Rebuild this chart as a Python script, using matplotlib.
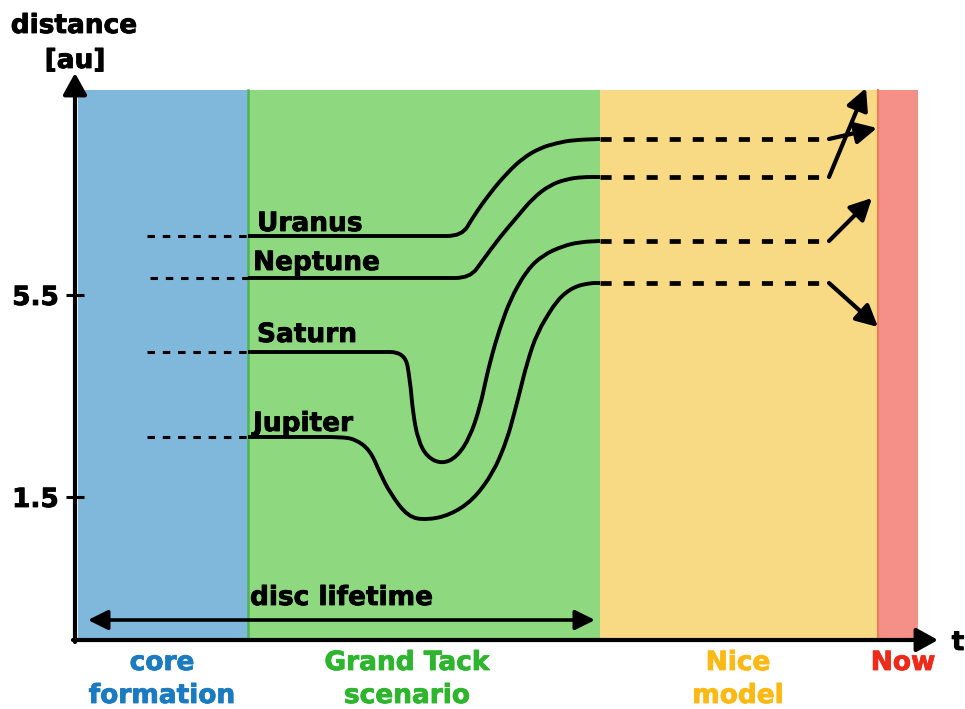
import numpy as np
import matplotlib
matplotlib.use("Agg")
import matplotlib.pyplot as plt
import matplotlib.patheffects as pe
from matplotlib.path import Path
from matplotlib.patches import PathPatch, Rectangle

plt.rcParams['font.family'] = ['DejaVu Sans']
plt.rcParams['font.weight'] = 'bold'
plt.rcParams['lines.scale_dashes'] = False

# ---------------- data (schematic units) ----------------
phase_labels = ['core\nformation', 'Grand Tack\nscenario', 'Nice\nmodel', 'Now']
phase_edges = [0.03, 1.73, 5.25, 8.03, 8.43]
phase_top = 5.5
phase_fill = ['#80B8DC', '#8ED880', '#F9DA84', '#F59089']
phase_text_color = ['#1B7BC0', '#2DB52D', '#FDB913', '#EE2A1B']
phase_label_t = [0.87, 3.32, 6.63, 8.28]

planets = ['Uranus', 'Neptune', 'Saturn', 'Jupiter']

uranus_t = [1.73, 3.87, 3.98, 4.15, 4.32, 4.48, 4.65, 4.82, 4.98, 5.25]
uranus_d = [4.04, 4.04, 4.23, 4.47, 4.67, 4.82, 4.92, 4.97, 5.00, 5.01]

neptune_t = [1.73, 3.95, 4.08, 4.25, 4.42, 4.58, 4.75, 4.92, 5.08, 5.25]
neptune_d = [3.62, 3.62, 3.80, 4.03, 4.23, 4.42, 4.55, 4.61, 4.63, 4.63]

saturn_t = [1.73, 3.30, 3.35, 3.38, 3.43, 3.52, 3.67, 3.82, 3.95, 4.05,
            4.13, 4.22, 4.35, 4.52, 4.68, 4.88, 5.05, 5.25]
saturn_d = [2.88, 2.88, 2.60, 2.27, 2.00, 1.83, 1.76, 1.83, 2.03, 2.33,
            2.70, 3.03, 3.40, 3.70, 3.85, 3.94, 3.98, 3.99]

jupiter_t = [1.73, 2.65, 2.80, 2.95, 3.05, 3.15, 3.33, 3.52, 3.75, 3.98,
             4.18, 4.32, 4.42, 4.52, 4.62, 4.82, 4.98, 5.15, 5.25]
jupiter_d = [2.03, 2.03, 2.01, 1.90, 1.67, 1.47, 1.23, 1.20, 1.25, 1.40,
             1.67, 2.00, 2.37, 2.77, 3.07, 3.40, 3.53, 3.57, 3.57]

formation_start_t = [0.72, 0.75, 0.72, 0.72]
nice_end_t = 7.54
arrow_tip_t = [8.02, 7.91, 7.97, 8.03]
arrow_tip_d = [5.12, 5.52, 4.42, 3.13]

ytick_pos = [1.43, 3.45]
ytick_labels = ['1.5', '5.5']

disc_lifetime_t = [0.13, 5.20]
disc_lifetime_d = 0.20

planet_label_t = [1.82, 1.78, 1.82, 1.78]
planet_label_d = [4.09, 3.70, 2.98, 2.09]

tracks_t = [uranus_t, neptune_t, saturn_t, jupiter_t]
tracks_d = [uranus_d, neptune_d, saturn_d, jupiter_d]

# ---------------- figure ----------------
W, H = 965, 709
fig = plt.figure(figsize=(W / 100, H / 100), dpi=100)
ax = fig.add_axes([75 / W, (H - 640) / H, 880 / W, 565 / H])
ax.set_xlim(0, 8.8)
ax.set_ylim(0, 5.65)
for s in ax.spines.values():
    s.set_visible(False)

def heavy(c):
    return [pe.withStroke(linewidth=0.6, foreground=c)]

ax.set_xticks([])
ax.set_yticks(ytick_pos)
ax.set_yticklabels(ytick_labels, fontsize=19, fontweight='bold')
for lab in ax.get_yticklabels():
    lab.set_path_effects(heavy('black'))
ax.tick_params(axis='y', direction='inout', length=13, width=2.2, pad=5)

# phase bands
for i in range(4):
    ax.add_patch(Rectangle((phase_edges[i], 0), phase_edges[i + 1] - phase_edges[i],
                           phase_top, facecolor=phase_fill[i], edgecolor='none', zorder=0))
ax.plot([phase_edges[1]] * 2, [0, phase_top], color='#4DB556', lw=1.8, zorder=0.5)
ax.plot([phase_edges[3]] * 2, [0, phase_top], color='#F07A5E', lw=1.5, zorder=0.5)

# phase labels
for lab, tx, col in zip(phase_labels, phase_label_t, phase_text_color):
    for k, ln in enumerate(lab.split('\n')):
        ax.text(tx, -0.30 - 0.33 * k, ln, ha='center', va='baseline', fontsize=19,
                fontweight='bold', color=col, clip_on=False, path_effects=heavy(col))


def smooth_path(ts, ds, r=0.15):
    p = np.column_stack([ts, ds]).astype(float)
    verts = [p[0]]
    codes = [Path.MOVETO]
    for i in range(1, len(p) - 1):
        vin = p[i - 1] - p[i]
        vout = p[i + 1] - p[i]
        lin = np.hypot(*vin)
        lout = np.hypot(*vout)
        a = p[i] + vin * min(0.5, r / lin)
        b = p[i] + vout * min(0.5, r / lout)
        verts += [a, p[i], b]
        codes += [Path.LINETO, Path.CURVE3, Path.CURVE3]
    verts.append(p[-1])
    codes.append(Path.LINETO)
    return Path(verts, codes)


for name, ts, ds, t0, tip_t, tip_d, lt, ld in zip(planets, tracks_t, tracks_d,
                                                  formation_start_t, arrow_tip_t,
                                                  arrow_tip_d, planet_label_t, planet_label_d):
    ax.plot([t0, ts[0]], [ds[0], ds[0]], color='black', lw=2.2,
            dashes=(5.4, 5.6), dash_capstyle='butt', zorder=3)
    ax.add_patch(PathPatch(smooth_path(ts, ds), facecolor='none', edgecolor='black',
                           lw=2.8, capstyle='butt', joinstyle='round', zorder=3))
    ax.plot([ts[-1], nice_end_t], [ds[-1], ds[-1]], color='black', lw=3.4,
            dashes=(8, 8.6), dash_capstyle='butt', zorder=3)
    ax.annotate('', xy=(tip_t, tip_d), xytext=(nice_end_t, ds[-1]),
                arrowprops=dict(arrowstyle='-|>,head_length=0.65,head_width=0.33',
                                mutation_scale=20, lw=3, color='black',
                                shrinkA=0, shrinkB=0), zorder=4)
    ax.text(lt, ld, name, ha='left', va='baseline', fontsize=19, fontweight='bold',
            color='black', zorder=5, path_effects=heavy('black'))

# disc lifetime
ax.annotate('', xy=(disc_lifetime_t[1], disc_lifetime_d),
            xytext=(disc_lifetime_t[0], disc_lifetime_d),
            arrowprops=dict(arrowstyle='<|-|>,head_length=0.6,head_width=0.3',
                            mutation_scale=20, lw=2.6, color='black',
                            shrinkA=0, shrinkB=0), zorder=4)
ax.text(1.75, 0.35, 'disc lifetime', ha='left', va='baseline', fontsize=19,
        fontweight='bold', color='black', zorder=5, path_effects=heavy('black'))

# axes arrows
ax.annotate('', xy=(0, 5.67), xytext=(0, -0.02),
            arrowprops=dict(arrowstyle='-|>,head_length=0.65,head_width=0.36',
                            mutation_scale=20, lw=3, color='black',
                            shrinkA=0, shrinkB=0), annotation_clip=False, zorder=6)
ax.annotate('', xy=(8.63, 0), xytext=(-0.02, 0),
            arrowprops=dict(arrowstyle='-|>,head_length=0.65,head_width=0.36',
                            mutation_scale=20, lw=3, color='black',
                            shrinkA=0, shrinkB=0), annotation_clip=False, zorder=6)

ax.text(-0.01, 6.07, 'distance', ha='center', va='baseline', fontsize=19,
        fontweight='bold', clip_on=False, path_effects=heavy('black'))
ax.text(0.0, 5.72, '[au]', ha='center', va='baseline', fontsize=19,
        fontweight='bold', clip_on=False, path_effects=heavy('black'))
ax.text(8.83, -0.10, 't', ha='center', va='baseline', fontsize=19,
        fontweight='bold', clip_on=False, path_effects=heavy('black'))

fig.savefig('out.png', dpi=100)
